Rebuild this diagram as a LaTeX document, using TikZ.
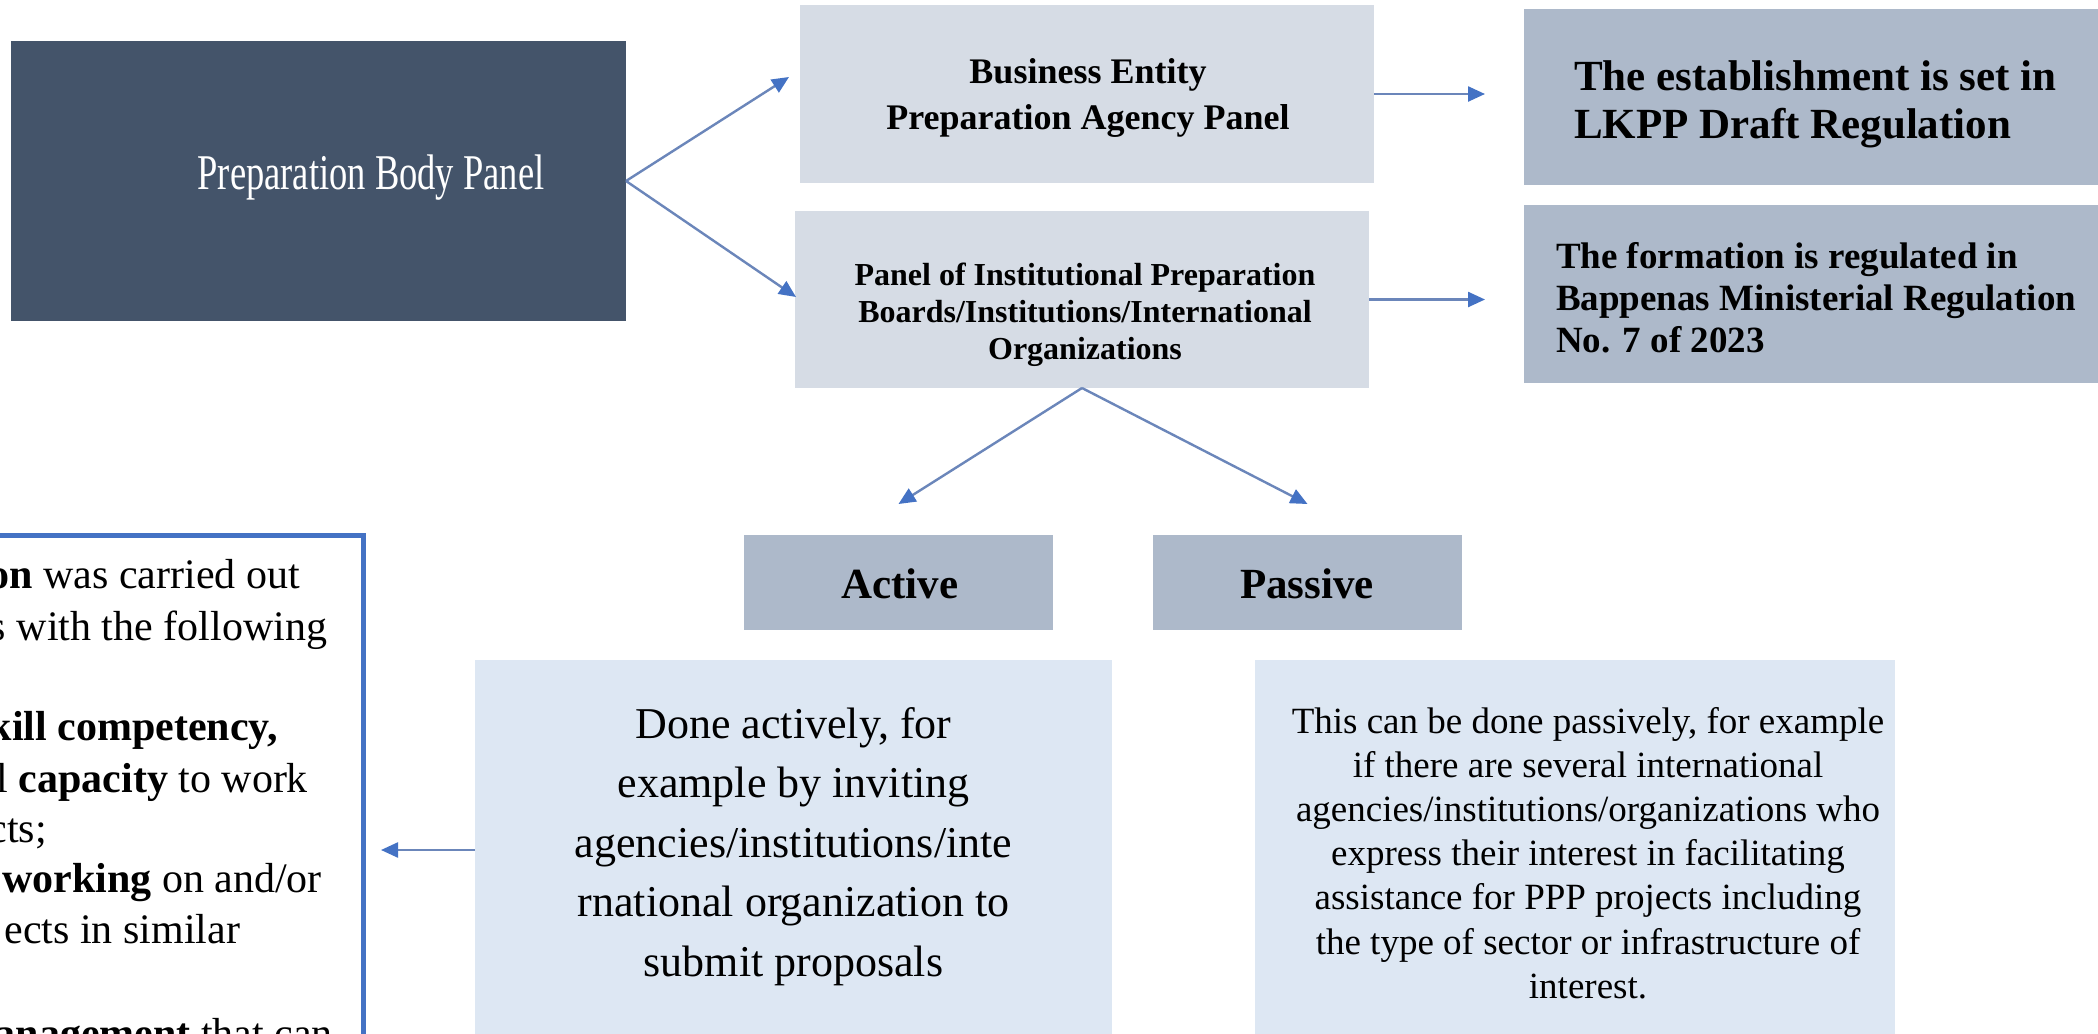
\documentclass[tikz,border=0pt]{standalone}
\usepackage{fontspec}
\setmainfont{Liberation Serif}
\newfontfamily\condfont[FakeStretch=0.73]{Liberation Serif}
\usetikzlibrary{arrows.meta}
\definecolor{darkbox}{HTML}{44546A}
\definecolor{lightbox}{HTML}{D6DCE5}
\definecolor{midbox}{HTML}{ADB9CA}
\definecolor{descbox}{HTML}{DDE7F3}
\definecolor{linecol}{HTML}{6B86BA}
\definecolor{headcol}{HTML}{4472C4}
\definecolor{bordercol}{HTML}{4472C4}
\newcommand{\mycl}[1]{\begin{tabular}[t]{@{}c@{}}#1\end{tabular}}
\newcommand{\myll}[1]{\begin{tabular}[t]{@{}l@{}}#1\end{tabular}}
\begin{document}
\begin{tikzpicture}[x=0.5pt,y=-0.5pt,
  panel/.style={rectangle, inner sep=0pt, outer sep=0pt},
  txt/.style={inner sep=0pt, outer sep=0pt},
  arr/.style={draw=linecol, line width=1.2pt, -{Triangle[length=8.5pt,width=7.5pt,color=headcol]}}
]
\useasboundingbox (0,0) rectangle (2098,1033);
\fill[white] (0,0) rectangle (2098,1033);

% boxes
\node[panel, fill=darkbox, minimum width=307.5pt, minimum height=140pt] (pbp) at (318.5,181) {};
\node[panel, fill=lightbox, minimum width=287pt, minimum height=89pt] (b1) at (1087,94) {};
\node[panel, fill=lightbox, minimum width=287pt, minimum height=88.5pt] (b2) at (1082,299.5) {};
\node[panel, fill=midbox, minimum width=293pt, minimum height=88pt] (r1) at (1817,97) {};
\node[panel, fill=midbox, minimum width=293pt, minimum height=89pt] (r2) at (1817,294) {};
\node[panel, fill=midbox, minimum width=154.5pt, minimum height=47.5pt] (act) at (898.5,582.5) {};
\node[panel, fill=midbox, minimum width=154.5pt, minimum height=47.5pt] (pas) at (1307.5,582.5) {};
\node[panel, fill=descbox, minimum width=318.5pt, minimum height=190pt] (actd) at (793.5,850) {};
\node[panel, fill=descbox, minimum width=320pt, minimum height=190pt] (pasd) at (1575,850) {};
\node[panel, draw=bordercol, line width=2.5pt, fill=white, minimum width=191.5pt, minimum height=262.5pt] (crit) at (171.5,797.5) {};

% texts
\node[txt, anchor=base, text=white, font=\condfont\fontsize{25pt}{29pt}\selectfont] (pbpt) at (371,189) {Preparation Body Panel};
\node[txt, anchor=base, font=\fontsize{18pt}{23.5pt}\selectfont\bfseries] (b1t) at (1088,83) {\mycl{Business Entity\\Preparation Agency Panel}};
\node[txt, anchor=base, font=\fontsize{16pt}{18.6pt}\selectfont\bfseries] (b2t) at (1085,285) {\mycl{Panel of Institutional Preparation\\Boards/Institutions/International\\Organizations}};
\node[txt, anchor=base west, font=\fontsize{21.5pt}{24.5pt}\selectfont\bfseries] (r1t) at (1574,90) {\myll{The establishment is set in\\LKPP Draft Regulation}};
\node[txt, anchor=base west, font=\fontsize{18.5pt}{21pt}\selectfont\bfseries] (r2t) at (1556,268) {\myll{The formation is regulated in\\Bappenas Ministerial Regulation\\No. 7 of 2023}};
\node[txt, anchor=base, font=\fontsize{21.5pt}{25pt}\selectfont\bfseries] (actt) at (900,598) {Active};
\node[txt, anchor=base, font=\fontsize{21.5pt}{25pt}\selectfont\bfseries] (past) at (1307,598) {Passive};
\node[txt, anchor=base, font=\fontsize{22pt}{29.75pt}\selectfont] (actdt) at (793.5,738) {\mycl{Done actively, for\\example by inviting\\agencies/institutions/inte\\rnational organization to\\submit proposals}};
\node[txt, anchor=base, font=\fontsize{18.5pt}{22.1pt}\selectfont] (pasdt) at (1588,733) {\mycl{This can be done passively, for example\\if there are several international\\agencies/institutions/organizations who\\express their interest in facilitating\\assistance for PPP projects including\\the type of sector or infrastructure of\\interest.}};

% left criteria text (clipped at left edge)
\begin{scope}[every node/.style={txt, anchor=base east, font=\fontsize{21pt}{25pt}\selectfont}]
\node (c1) at (300,588) {\textbf{on} was carried out};
\node (c2) at (327,640) {s with the following};
\node (c3) at (278,740) {\textbf{kill competency,}};
\node (c4) at (308,792) {l \textbf{capacity} to work};
\node (c5) at (47,842) {cts;};
\node (c6) at (322,892) {\textbf{working} on and/or};
\node (c7) at (240,943) {ects in similar};
\node (c8) at (333,1047) {\textbf{anagement} that can};
\end{scope}

% connectors
\coordinate (t1) at (789,77);
\coordinate (t2) at (796,297);
\draw[arr] (pbp.east) -- (t1);
\draw[arr] (pbp.east) -- (t2);
\draw[arr, shorten >=19.5pt] (b1.east) -- (r1.west |- b1.east);
\draw[arr, shorten >=19.5pt] (b2.east) -- (r2.west |- b2.east);
\draw[arr] (b2.south) -- ([yshift=15.5pt]act.north);
\draw[arr] (b2.south) -- ([yshift=15.5pt]pas.north);
\draw[arr, shorten >=9pt] (actd.west) -- (crit.east |- actd.west);
\end{tikzpicture}
\end{document}
